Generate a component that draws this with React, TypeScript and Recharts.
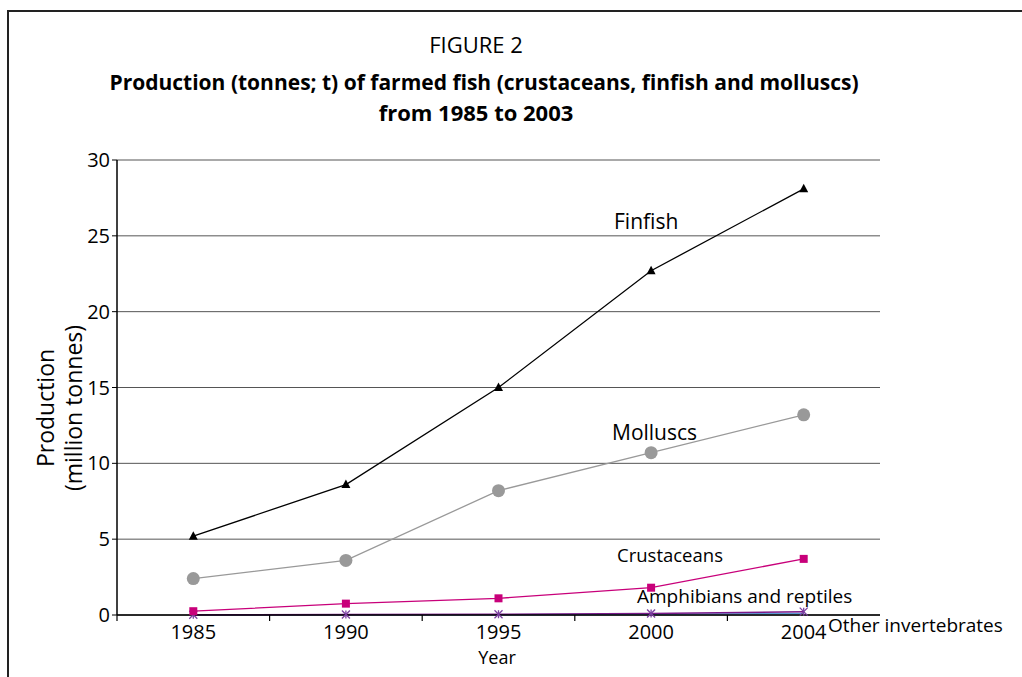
import React from "react";
import { LineChart, Line, XAxis, YAxis, CartesianGrid } from "recharts";

const years = ["1985", "1990", "1995", "2000", "2004"];
const finfish = [5.2, 8.6, 15.0, 22.7, 28.1];
const molluscs = [2.4, 3.6, 8.2, 10.7, 13.2];
const crustaceans = [0.25, 0.75, 1.1, 1.8, 3.7];
const amphibians = [0.02, 0.03, 0.05, 0.1, 0.22];
const otherInv = [0.01, 0.01, 0.02, 0.05, 0.1];
const yTicks = [0, 5, 10, 15, 20, 25, 30];

// category slots: labels at slot centres, tick marks at slot boundaries (none at the right end)
const xTicks: number[] = [];
for (let i = 0; i < years.length; i++) {
  xTicks.push(i);
  xTicks.push(i + 0.5);
}

const data = years.map((y, i) => ({
  year: y,
  pos: i + 0.5,
  finfish: finfish[i],
  molluscs: molluscs[i],
  crustaceans: crustaceans[i],
  amphibians: amphibians[i],
  otherInv: otherInv[i],
}));

const FONT = "'Open Sans', 'Noto Sans', sans-serif";

const Triangle = (props: any) => {
  const { cx, cy } = props;
  if (cx == null || cy == null) return null;
  return <path d={`M${cx},${cy - 5} L${cx + 4.5},${cy + 3.5} L${cx - 4.5},${cy + 3.5} Z`} fill="#000" />;
};
const Square = (props: any) => {
  const { cx, cy } = props;
  if (cx == null || cy == null) return null;
  return <rect x={cx - 4} y={cy - 4} width={8} height={8} fill="#C8007A" />;
};
const Circle = (props: any) => {
  const { cx, cy } = props;
  if (cx == null || cy == null) return null;
  return <circle cx={cx} cy={cy} r={6.5} fill="#999999" />;
};
const Star = (props: any) => {
  const { cx, cy } = props;
  if (cx == null || cy == null) return null;
  return (
    <g stroke="#7B3FA0" strokeWidth={1.3}>
      <line x1={cx - 4} y1={cy - 4} x2={cx + 4} y2={cy + 4} />
      <line x1={cx - 4} y1={cy + 4} x2={cx + 4} y2={cy - 4} />
      <line x1={cx} y1={cy - 4} x2={cx} y2={cy + 4} />
    </g>
  );
};

const XTick = (props: any) => {
  const { x, y, payload } = props;
  const v = payload.value as number;
  if (Number.isInteger(v)) {
    return <line x1={x} y1={y} x2={x} y2={y + 6} stroke="#000" strokeWidth={1.2} />;
  }
  const label = years[Math.floor(v)];
  return (
    <text x={x} y={y + 24} textAnchor="middle" fontSize={20} fontFamily={FONT} fill="#000">
      {label}
    </text>
  );
};

export default function App() {
  return (
    <div style={{ position: "absolute", left: 0, top: 0, width: 1022, height: 677, background: "#fff", overflow: "hidden" }}>
      <div style={{ position: "absolute", left: 7, top: 10, width: 1100, height: 700, borderTop: "2px solid #222", borderLeft: "2px solid #222" }} />
      <LineChart
        width={1022}
        height={677}
        data={data}
        margin={{ top: 160, right: 142, bottom: 32, left: 57 }}
        style={{ position: "absolute", left: 0, top: 0 }}
      >
        <CartesianGrid vertical={false} stroke="#555" strokeWidth={1} />
        <XAxis
          type="number"
          dataKey="pos"
          domain={[0, years.length]}
          ticks={xTicks}
          interval={0}
          tick={XTick}
          tickLine={false}
          tickSize={0}
          tickMargin={0}
          axisLine={{ stroke: "#000", strokeWidth: 1.5 }}
          height={30}
        />
        <YAxis
          domain={[0, 30]}
          ticks={yTicks}
          width={60}
          tickSize={5}
          tickLine={{ stroke: "#000" }}
          axisLine={{ stroke: "#000", strokeWidth: 1.5 }}
          tick={{ fill: "#000", fontSize: 20, fontFamily: FONT }}
          tickMargin={2}
          interval={0}
        />
        <YAxis
          yAxisId="r"
          orientation="right"
          domain={[0, 30]}
          width={0}
          tick={false}
          tickLine={false}
          axisLine={{ stroke: "#999", strokeWidth: 2 }}
        />
        <Line dataKey="otherInv" stroke="#5B9BD5" strokeWidth={1.5} dot={false} isAnimationActive={false} />
        <Line dataKey="amphibians" stroke="#7B1A8A" strokeWidth={1.5} dot={<Star />} isAnimationActive={false} />
        <Line dataKey="crustaceans" stroke="#C8007A" strokeWidth={1.3} dot={<Square />} isAnimationActive={false} />
        <Line dataKey="molluscs" stroke="#999999" strokeWidth={1.3} dot={<Circle />} isAnimationActive={false} />
        <Line dataKey="finfish" stroke="#000" strokeWidth={1.3} dot={<Triangle />} isAnimationActive={false} />
      </LineChart>
      <svg width={1022} height={677} style={{ position: "absolute", left: 0, top: 0, pointerEvents: "none" }} fontFamily={FONT}>
        <text x={476} y={53} textAnchor="middle" fontSize={22} fill="#000">FIGURE 2</text>
        <text x={484} y={90} textAnchor="middle" fontSize={21} fontWeight="bold" fill="#000">
          Production (tonnes; t) of farmed fish (crustaceans, finfish and molluscs)
        </text>
        <text x={476} y={121} textAnchor="middle" fontSize={22} fontWeight="bold" fill="#000">from 1985 to 2003</text>
        <g transform="translate(54,408) rotate(-90)">
          <text x={0} y={0} textAnchor="middle" fontSize={23} fill="#000">Production</text>
          <text x={0} y={28} textAnchor="middle" fontSize={23} fill="#000">(million tonnes)</text>
        </g>
        <text x={497} y={664} textAnchor="middle" fontSize={18} fill="#000">Year</text>
        <text x={614} y={229} fontSize={21} fill="#000">Finfish</text>
        <text x={612} y={440} fontSize={21} fill="#000">Molluscs</text>
        <text x={617} y={562} fontSize={18.5} fill="#000">Crustaceans</text>
        <text x={637} y={603} fontSize={19} fill="#000">Amphibians and reptiles</text>
        <text x={828} y={632} fontSize={19} fill="#000">Other invertebrates</text>
      </svg>
    </div>
  );
}
